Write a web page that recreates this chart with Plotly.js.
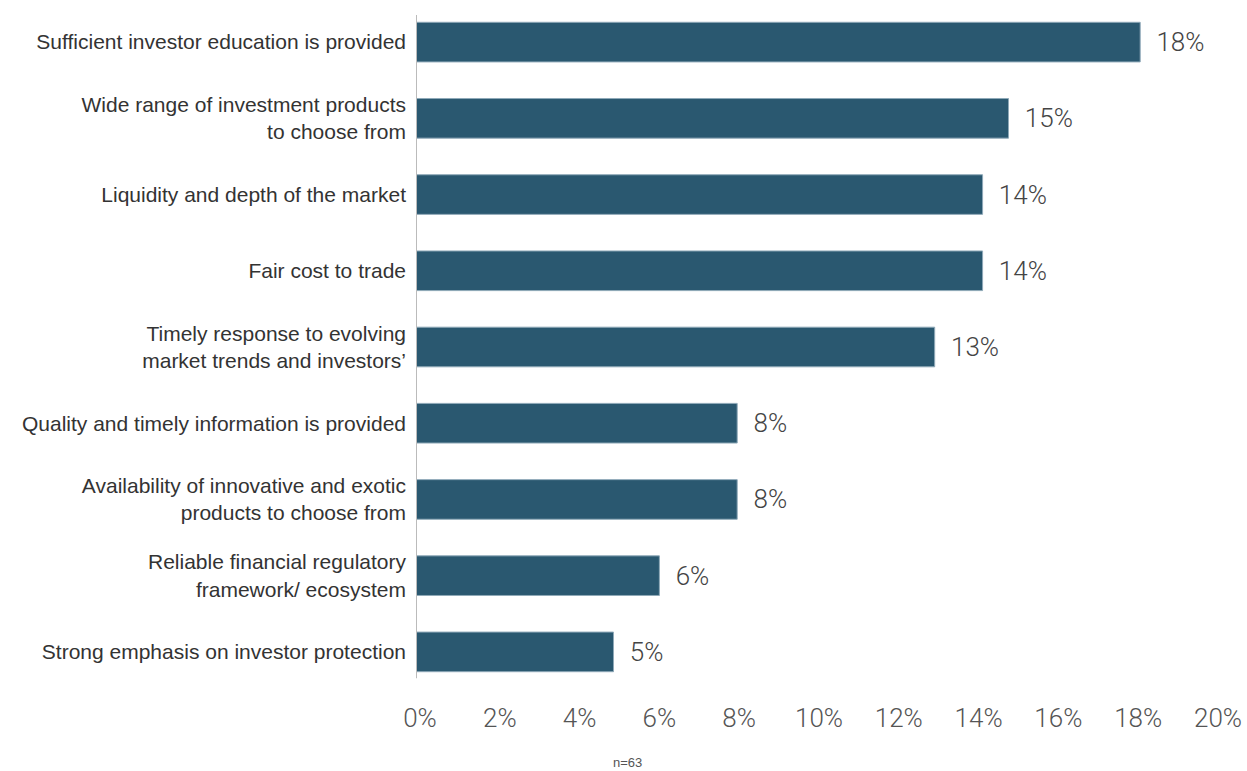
<!DOCTYPE html>
<html>
<head>
<meta charset="utf-8">
<script src="https://cdn.plot.ly/plotly-3.0.1.min.js"></script>
<style>html,body{margin:0;padding:0;background:#fff;}#chart{width:1247px;height:771px;}</style>
</head>
<body>
<div id="chart"></div>
<script>
const categories = [
  "Sufficient investor education is provided",
  "Wide range of investment products<br>to choose from",
  "Liquidity and depth of the market",
  "Fair cost to trade",
  "Timely response to evolving<br>market trends and investors’",
  "Quality and timely information is provided",
  "Availability of innovative and exotic<br>products to choose from",
  "Reliable financial regulatory<br>framework/ ecosystem",
  "Strong emphasis on investor protection"
];
const values = [18.15, 14.85, 14.2, 14.2, 13.0, 8.05, 8.05, 6.1, 4.95];
const valueLabels = ["18%", "15%", "14%", "14%", "13%", "8%", "8%", "6%", "5%"];
const tickVals = [0, 2, 4, 6, 8, 10, 12, 14, 16, 18, 20];
const tickText = ["0%", "2%", "4%", "6%", "8%", "10%", "12%", "14%", "16%", "18%", "20%"];
const noteText = "n=63";

const trace = {
  type: "bar",
  orientation: "h",
  x: values,
  y: categories,
  text: valueLabels.map(t => "\u2002" + t),
  textposition: "outside",
  cliponaxis: false,
  textfont: {family: "Roboto, 'Liberation Sans', sans-serif", size: 26, color: "#444", weight: 300},
  marker: {color: "#2a5870", line: {color: "#8fa9b8", width: 1}},
  width: 0.52,
  hoverinfo: "none"
};

const layout = {
  width: 1247, height: 771,
  margin: {l: 416, r: 33, t: 4, b: 81},
  paper_bgcolor: "#fff", plot_bgcolor: "#fff",
  showlegend: false,
  font: {family: "'Liberation Sans', Arial, sans-serif", color: "#333"},
  xaxis: {
    range: [0, 20],
    tickvals: tickVals, ticktext: tickText,
    showgrid: false, zeroline: false, showline: false,
    ticks: "",
    tickfont: {family: "Roboto, 'Liberation Sans', sans-serif", size: 26, color: "#555", weight: 300},
    ticklabelstandoff: 10,
    ticklabelshift: 4
  },
  yaxis: {
    autorange: "reversed",
    showgrid: false, zeroline: false, showline: false,
    ticks: "",
    tickfont: {family: "'Liberation Sans', Arial, sans-serif", size: 21, color: "#333"},
    ticklabelstandoff: 9
  },
  shapes: [{
    type: "line", xref: "x", yref: "paper",
    x0: 0, x1: 0, y0: 0.017, y1: 0.984,
    line: {color: "#bbbbbb", width: 2}
  }],
  annotations: [{
    text: noteText, xref: "paper", yref: "paper",
    x: 0.265, y: -0.105, xanchor: "center", yanchor: "middle",
    showarrow: false,
    font: {family: "'Liberation Sans', Arial, sans-serif", size: 13, color: "#555"}
  }]
};

Plotly.newPlot("chart", [trace], layout, {displayModeBar: false, staticPlot: true});
</script>
</body>
</html>
